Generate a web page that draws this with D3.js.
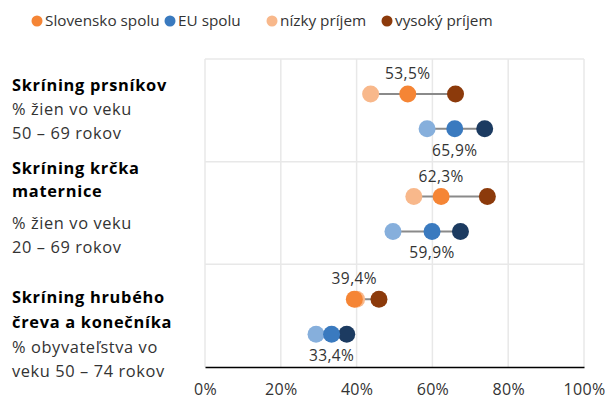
<!DOCTYPE html>
<html>
<head>
<meta charset="utf-8">
<script src="https://cdn.jsdelivr.net/npm/d3@7"></script>
<style>
  body { margin: 0; background: #fff; }
  svg { font-family: "Open Sans", sans-serif; }
</style>
</head>
<body>
<div id="chart"></div>
<script>
const width = 605;
const height = 400;

// data
const groups = ["prsnik", "krcok", "crevo"];
const groupTitles = [["Skríning prsníkov"], ["Skríning krčka", "maternice"], ["Skríning hrubého", "čreva a konečníka"]];
const groupSubtitles = [["% žien vo veku", "50 – 69 rokov"], ["% žien vo veku", "20 – 69 rokov"], ["% obyvateľstva vo", "veku 50 – 74 rokov"]];
const regions = ["SK", "EU"];
const lowIncome = [[43.7, 58.6], [55.1, 49.6], [40.0, 29.3]];
const total = [[53.5, 65.9], [62.3, 59.9], [39.4, 33.4]];
const highIncome = [[66.1, 73.8], [74.5, 67.4], [45.9, 37.4]];
const xTicks = [0, 20, 40, 60, 80, 100];
const legendLabels = ["Slovensko spolu", "EU spolu", "nízky príjem", "vysoký príjem"];

const colors = {
  SK: { low: "#f8b88b", total: "#f58535", high: "#8c3a0b" },
  EU: { low: "#86afdc", total: "#3a7abf", high: "#1c3b61" }
};
const lineColor = "#8a8a8a";
const gridColor = "#e8e8e8";
const textColor = "#333";

const margin = { top: 59, right: 21, bottom: 33, left: 205 };
const r = 8.5;

// baselines of the left-hand label lines, per group
const labelBaselines = [[91, 115, 139], [174, 197, 229, 253], [303, 328, 353, 377]];

let svg = d3.select("#chart").append("svg")
  .attr("width", width)
  .attr("height", height);

let x = d3.scaleLinear()
  .domain([0, 100])
  .range([margin.left, width - margin.right]);

let y = d3.scaleBand()
  .domain(groups)
  .range([margin.top, height - margin.bottom]);

let rowY = d3.scaleOrdinal()
  .domain(regions)
  .range([0.34, 0.68]);

function cy(gi, region) {
  return y(groups[gi]) + y.bandwidth() * rowY(region);
}

// Grid
svg.append("g")
  .selectAll("line")
  .data(xTicks)
  .join("line")
  .attr("x1", d => x(d))
  .attr("x2", d => x(d))
  .attr("y1", margin.top)
  .attr("y2", height - margin.bottom)
  .attr("stroke", gridColor)
  .attr("stroke-width", 1.5);

svg.append("g")
  .selectAll("line")
  .data(groups)
  .join("line")
  .attr("x1", x(0))
  .attr("x2", x(100))
  .attr("y1", d => y(d))
  .attr("y2", d => y(d))
  .attr("stroke", gridColor)
  .attr("stroke-width", 1.5);

// X axis
let xAxis = svg.append("g")
  .attr("transform", `translate(0,${height - margin.bottom})`)
  .call(d3.axisBottom(x).tickValues(xTicks).tickSize(0).tickPadding(17).tickFormat(d => d + "%"));
xAxis.select(".domain").attr("stroke", "#000").attr("stroke-width", 1.5);
xAxis.selectAll("text")
  .attr("fill", textColor)
  .style("font-size", "16px")
  .style("letter-spacing", "0.3px")
  .style("font-family", "Open Sans, sans-serif");

// Dumbbells
let rows = [];
groups.forEach((g, gi) => {
  regions.forEach((reg, ri) => {
    rows.push({ gi: gi, reg: reg, low: lowIncome[gi][ri], total: total[gi][ri], high: highIncome[gi][ri] });
  });
});

let rowG = svg.append("g")
  .selectAll("g")
  .data(rows)
  .join("g");

rowG.append("line")
  .attr("x1", d => x(Math.min(d.low, d.total, d.high)))
  .attr("x2", d => x(Math.max(d.low, d.total, d.high)))
  .attr("y1", d => cy(d.gi, d.reg))
  .attr("y2", d => cy(d.gi, d.reg))
  .attr("stroke", lineColor)
  .attr("stroke-width", 2);

["low", "high", "total"].forEach(key => {
  rowG.append("circle")
    .attr("cx", d => x(d[key]))
    .attr("cy", d => cy(d.gi, d.reg))
    .attr("r", r)
    .attr("fill", d => colors[d.reg][key]);
});

rowG.append("text")
  .attr("x", d => x(d.total))
  .attr("y", d => cy(d.gi, d.reg) + (d.reg === "SK" ? -15 : 27))
  .attr("text-anchor", "middle")
  .attr("fill", textColor)
  .style("font-size", "15.5px")
  .style("letter-spacing", "0.4px")
  .text(d => d3.format(".1f")(d.total).replace(".", ",") + "%");

// Left labels
groups.forEach((g, i) => {
  let lines = groupTitles[i].map(t => ({ text: t, bold: true }))
    .concat(groupSubtitles[i].map(t => ({ text: t, bold: false })));
  svg.append("g")
    .selectAll("text")
    .data(lines)
    .join("text")
    .attr("x", 12)
    .attr("y", (d, li) => labelBaselines[i][li])
    .attr("fill", d => d.bold ? "#000" : textColor)
    .style("font-weight", d => d.bold ? "bold" : "normal")
    .style("font-size", "16.4px")
    .style("letter-spacing", d => d.bold ? "0.7px" : "0.6px")
    .text(d => d.text);
});

// Legend
const legendX = [37, 170, 272, 387];
const legendColors = [colors.SK.total, colors.EU.total, colors.SK.low, colors.SK.high];
let legend = svg.append("g")
  .selectAll("g")
  .data(legendLabels)
  .join("g")
  .attr("transform", (d, i) => `translate(${legendX[i]},21)`);
legend.append("circle")
  .attr("r", 5.5)
  .attr("fill", (d, i) => legendColors[i]);
legend.append("text")
  .attr("x", 8)
  .attr("dy", "0.35em")
  .attr("fill", textColor)
  .style("font-size", "15.3px")
  .text(d => d);
</script>
</body>
</html>
